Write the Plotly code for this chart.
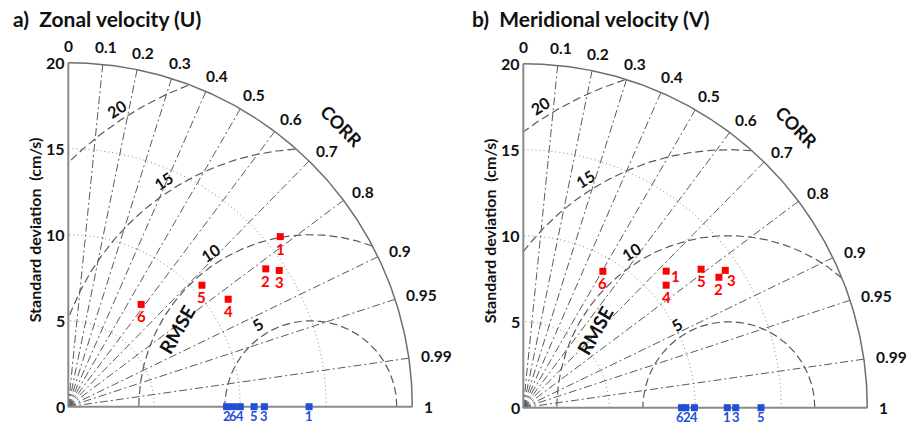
import numpy as np
import plotly.graph_objects as go

# ---------------- data ----------------
corr_lines = [0.1, 0.2, 0.3, 0.4, 0.5, 0.6, 0.7, 0.8, 0.9, 0.95, 0.99]
corr_tick_vals = [0, 0.1, 0.2, 0.3, 0.4, 0.5, 0.6, 0.7, 0.8, 0.9, 0.95, 0.99, 1]
corr_tick_text = ["0", "0.1", "0.2", "0.3", "0.4", "0.5", "0.6", "0.7", "0.8", "0.9", "0.95", "0.99", "1"]
std_ticks = [0, 5, 10, 15, 20]
std_circles = [5, 10, 15]
rmse_levels = [5, 10, 15, 20]
stations = ["1", "2", "3", "4", "5", "6"]

# panel a: zonal velocity
u_ref_std = 14.1
u_obs_std = [14.0, 9.2, 11.4, 10.0, 10.8, 9.6]
u_mod_std = [15.8, 14.0, 14.6, 11.2, 10.5, 7.3]
u_mod_corr = [0.78, 0.82, 0.84, 0.83, 0.74, 0.58]

# panel b: meridional velocity
v_ref_std = 11.95
v_obs_std = [11.86, 9.45, 12.35, 9.95, 13.82, 9.2]
v_mod_std = [11.49, 13.67, 14.20, 10.94, 13.10, 9.18]
v_mod_corr = [0.723, 0.832, 0.827, 0.759, 0.789, 0.504]

titles = ["a)&nbsp;&nbsp;Zonal&nbsp;velocity&nbsp;(U)", "b)&nbsp;&nbsp;Meridional&nbsp;velocity&nbsp;(V)"]
ylabel = "Standard deviation&nbsp;&nbsp;(cm/s)"

# ---------------- layout geometry ----------------
W, H = 908, 425
K = 17.2  # px per unit
SMAX = 20.0
FONT = "Lato, 'Open Sans', sans-serif"
GRAY = "#6e6e6e"
RED = "#ff0000"
BLUE = "#1f4fd6"

fig = go.Figure()


def add_line(xs, ys, xa, ya, color, width, dash):
    fig.add_trace(go.Scatter(x=xs, y=ys, mode="lines", xaxis=xa, yaxis=ya,
                             line=dict(color=color, width=width, dash=dash),
                             hoverinfo="skip", showlegend=False))


def ann(text, x, y, xa, ya, size=14, color="#111", angle=0, xanchor="center",
        yanchor="middle", xshift=0, yshift=0, bold=True):
    fig.add_annotation(text=("<b>%s</b>" % text) if bold else text, x=x, y=y,
                       xref=xa, yref=ya, showarrow=False, textangle=angle,
                       xanchor=xanchor, yanchor=yanchor, xshift=xshift, yshift=yshift,
                       borderpad=0,
                       font=dict(family=FONT, size=size, color=color))


def panel(idx, ref, obs_std, mod_std, mod_corr, red_shifts, blue_shifts, rmse_ang):
    xa = "x" if idx == 0 else "x2"
    ya = "y" if idx == 0 else "y2"
    t = np.linspace(0, np.pi / 2, 200)

    # std dotted circles
    xs, ys = [], []
    for r in std_circles:
        xs += list(r * np.cos(t)) + [None]
        ys += list(r * np.sin(t)) + [None]
    add_line(xs, ys, xa, ya, "#8c8c8c", 1, "1px,3px")

    # correlation dash-dot rays
    xs, ys = [], []
    for c in corr_lines:
        a = np.arccos(c)
        xs += [0, SMAX * np.cos(a), None]
        ys += [0, SMAX * np.sin(a), None]
    add_line(xs, ys, xa, ya, "#5a5a5a", 1, "8px,3px,2px,3px")

    # RMSE dashed arcs, clipped to quarter disc
    xs, ys = [], []
    tt = np.linspace(0, np.pi, 600)
    for R in rmse_levels:
        px = ref + R * np.cos(tt)
        py = R * np.sin(tt)
        ok = (px >= 0) & (np.hypot(px, py) <= SMAX)
        for x_, y_, o in zip(px, py, ok):
            if o:
                xs.append(x_)
                ys.append(y_)
            else:
                if xs and xs[-1] is not None:
                    xs.append(None)
                    ys.append(None)
        xs.append(None)
        ys.append(None)
    add_line(xs, ys, xa, ya, "#5a5a5a", 1.2, "8px,4px")

    # outer circle and axes
    add_line(list(SMAX * np.cos(t)), list(SMAX * np.sin(t)), xa, ya, GRAY, 1.5, "solid")
    add_line([0, 0, None, 0, SMAX], [SMAX, 0, None, 0, 0], xa, ya, "#8a8a8a", 2, "solid")

    # observations (blue, on the x axis)
    fig.add_trace(go.Scatter(x=obs_std, y=[0] * len(obs_std), mode="markers",
                             xaxis=xa, yaxis=ya, marker=dict(symbol="square", size=7, color=BLUE),
                             hoverinfo="skip", showlegend=False))
    for s, lab, sh in zip(obs_std, stations, blue_shifts):
        ann(lab, s, 0, xa, ya, size=13, color=BLUE, yshift=-9.5, xshift=sh)

    # models (red)
    mc = np.array(mod_corr)
    ms = np.array(mod_std)
    mx = ms * mc
    my = ms * np.sqrt(1 - mc ** 2)
    fig.add_trace(go.Scatter(x=mx, y=my, mode="markers", xaxis=xa, yaxis=ya,
                             marker=dict(symbol="square", size=7, color=RED),
                             hoverinfo="skip", showlegend=False))
    for x_, y_, lab, sh in zip(mx, my, stations, red_shifts):
        ann(lab, x_, y_, xa, ya, size=15, color=RED, xshift=sh[0], yshift=sh[1])

    # std tick labels
    for s in std_ticks:
        ann(str(s), -0.15, s, xa, ya, size=16, xanchor="right")

    # correlation tick labels
    for c, lab in zip(corr_tick_vals, corr_tick_text):
        a = np.arccos(c)
        r = (21.0 - 0.3 * np.cos(a) ** 2) if c < 1 else 20.7
        wpx = 9 * sum(ch.isdigit() for ch in lab) + 4 * lab.count(".")
        ann(lab, r * np.cos(a), r * np.sin(a), xa, ya, size=15.5,
            xshift=0.5 * wpx * np.cos(a))

    ann("CORR", 22.8 * np.cos(np.radians(45.8)), 22.8 * np.sin(np.radians(45.8)),
        xa, ya, size=18, angle=45)

    # RMSE labels
    ra = np.radians(rmse_ang)
    for R in rmse_levels:
        ann(str(R), ref + (R + 0.7) * np.cos(ra), (R + 0.7) * np.sin(ra), xa, ya,
            size=16, angle=-(rmse_ang - 90))
    ra2 = np.radians(150)
    ann("RMSE", ref + 9.0 * np.cos(ra2), 9.0 * np.sin(ra2), xa, ya, size=19, angle=-60)

    # y label
    ann(ylabel, -1.95, 10.3, xa, ya, size=16, angle=-90)


panel(0, u_ref_std, u_obs_std, u_mod_std, u_mod_corr,
      [(0, -12)] * 6, [0, 0, 0, 0, 0, 0], 123)
panel(1, v_ref_std, v_obs_std, v_mod_std, v_mod_corr,
      [(9, -5), (0, -12), (6, -10), (0, -12), (0, -12), (0, -12)],
      [0, 1, 0, 0, 0, -2], 122)

# titles
for i, xp in enumerate([12, 471]):
    fig.add_annotation(text="<b>%s</b>" % titles[i], x=xp / W, y=1 - 19 / H, xref="paper", yref="paper",
                       showarrow=False, xanchor="left", yanchor="middle", borderpad=0,
                       font=dict(family=FONT, size=21, color="#111"))


# axes ranges so that 1 unit = K px, origins at measured pixels
def rng(origin_px, start_px, length_px):
    a = -(origin_px - start_px) / K
    return [a, a + length_px / K]


ax_common = dict(visible=False, showgrid=False, zeroline=False, fixedrange=True)
fig.update_layout(
    width=W, height=H, autosize=False,
    margin=dict(l=0, r=0, t=0, b=0),
    paper_bgcolor="white", plot_bgcolor="white",
    xaxis=dict(domain=[0, 0.5], range=rng(68.3, 0, 454), anchor="y", **ax_common),
    yaxis=dict(domain=[0, 1], range=[-(425 - 406.7) / K, -(425 - 406.7) / K + 425 / K], anchor="x", **ax_common),
    xaxis2=dict(domain=[0.5, 1], range=rng(523.3, 454, 454), anchor="y2", **ax_common),
    yaxis2=dict(domain=[0, 1], range=[-(425 - 407.7) / K, -(425 - 407.7) / K + 425 / K], anchor="x2", **ax_common),
    showlegend=False,
)

fig.write_html("out.html", config={"displayModeBar": False, "responsive": False},
               post_script="document.body.style.margin='0';document.body.style.overflow='hidden';")
